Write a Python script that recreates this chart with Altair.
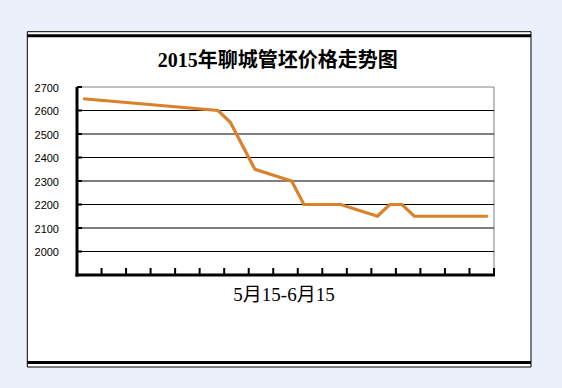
import altair as alt
import pandas as pd

# Daily steel billet price (yuan/t), day 0 = May 15
day_index = [0, 11, 12, 14, 17, 18, 21, 24, 25, 26, 27, 33]
price = [2650, 2600, 2550, 2350, 2300, 2200, 2200, 2150, 2200, 2200, 2150, 2150]

y_tick_values = [2000, 2100, 2200, 2300, 2400, 2500, 2600, 2700]
y_tick_labels = ["2000", "2100", "2200", "2300", "2400", "2500", "2600", "2700"]
grid_values = [2000, 2100, 2200, 2300, 2400, 2500, 2600]
x_tick_positions = [1.5, 3.5, 5.5, 7.5, 9.5, 11.5, 13.5, 15.5, 17.5,
                    19.5, 21.5, 23.5, 25.5, 27.5, 29.5, 31.5, 33.5]

chart_title = "2015年聊城管坯价格走势图"
x_title = "5月15-6月15"

W, H = 417, 188
SERIF = "Liberation Serif, Noto Sans CJK SC, serif"

xs = alt.Scale(domain=[-0.5, 33.5], nice=False, zero=False)
ys = alt.Scale(domain=[1900, 2700], nice=False, zero=False)

df = pd.DataFrame({"day": day_index, "price": price})
ticks_df = pd.DataFrame({"v": y_tick_values, "label": y_tick_labels})
one = pd.DataFrame({"k": [0]})

# white sheet with black border and heavy bands at top and bottom
sheet = alt.Chart(one).mark_rect(fill="white", stroke="black", strokeWidth=1).encode(
    x=alt.value(-49.7), x2=alt.value(454), y=alt.value(-55.3), y2=alt.value(280)
)
top_band = alt.Chart(one).mark_rule(color="black", strokeWidth=3).encode(
    x=alt.value(-49.7), x2=alt.value(454), y=alt.value(-51.2)
)
bottom_band = alt.Chart(one).mark_rule(color="black", strokeWidth=3).encode(
    x=alt.value(-49.7), x2=alt.value(454), y=alt.value(275.5)
)

# plot-area border (grey)
frame = alt.Chart(one).mark_rect(fill="white", stroke="#808080", strokeWidth=1).encode(
    x=alt.value(0), x2=alt.value(W), y=alt.value(0), y2=alt.value(H)
)

grid = alt.Chart(pd.DataFrame({"v": grid_values})).mark_rule(color="black", strokeWidth=1).encode(
    y=alt.Y("v:Q", scale=ys, axis=None), x=alt.value(0), x2=alt.value(W)
)

# value axis: heavy line, inward ticks, labels
y_domain = alt.Chart(one).mark_rule(color="black", strokeWidth=3).encode(
    x=alt.value(0), y=alt.value(0), y2=alt.value(H + 1.5)
)
y_stubs = alt.Chart(ticks_df).mark_rule(color="black", strokeWidth=2).encode(
    y=alt.Y("v:Q", scale=ys, axis=None), x=alt.value(0), x2=alt.value(5)
)
y_labels = alt.Chart(ticks_df).mark_text(
    align="right", baseline="middle", dy=1.5, font="Liberation Sans", fontSize=11, color="black"
).encode(
    y=alt.Y("v:Q", scale=ys, axis=None), x=alt.value(-18), text="label:N"
)

# category axis: heavy line and inward ticks
x_domain = alt.Chart(one).mark_rule(color="black", strokeWidth=3).encode(
    x=alt.value(-1.5), x2=alt.value(W + 1), y=alt.value(H)
)
x_ticks = alt.Chart(pd.DataFrame({"t": x_tick_positions})).mark_rule(color="black", strokeWidth=2).encode(
    x=alt.X("t:Q", scale=xs, axis=None), y=alt.value(H - 7), y2=alt.value(H)
)

line = alt.Chart(df).mark_line(color="#D9822B", strokeWidth=3.2).encode(
    x=alt.X("day:Q", scale=xs, axis=None),
    y=alt.Y("price:Q", scale=ys, axis=None),
)

title_text = alt.Chart(one).mark_text(
    text=chart_title, font=SERIF, fontSize=20, fontWeight="bold", color="black",
    align="center", baseline="alphabetic",
).encode(x=alt.value(200.8), y=alt.value(-20))

x_title_text = alt.Chart(one).mark_text(
    text=x_title, font=SERIF, fontSize=19, color="black",
    align="center", baseline="alphabetic",
).encode(x=alt.value(207), y=alt.value(214))

chart = alt.layer(
    sheet, top_band, bottom_band, frame, grid, line,
    y_domain, y_stubs, y_labels, x_domain, x_ticks,
    title_text, x_title_text,
).properties(
    width=W,
    height=H,
    padding={"left": 77, "top": 87, "right": 68, "bottom": 113},
    autosize=alt.AutoSizeParams(type="none"),
    background="#EBF0FA",
).configure_view(stroke="transparent")

chart.save("out.html", embed_options={"renderer": "svg", "actions": False})
